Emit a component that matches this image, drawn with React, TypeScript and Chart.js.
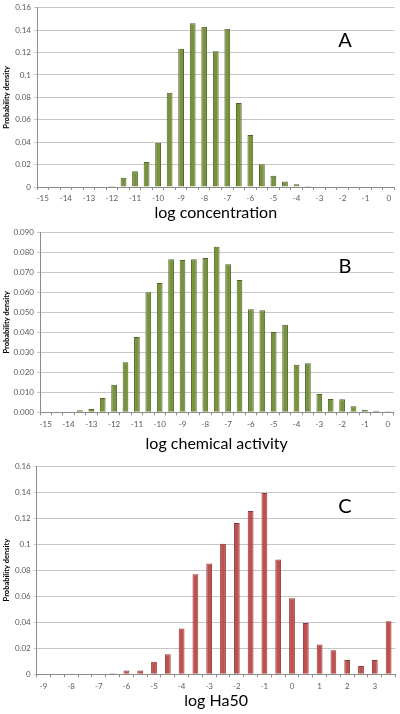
import React, { useEffect, useRef } from "react";
import { Chart, registerables } from "chart.js";

Chart.register(...registerables);

// ---------- Data ----------
const binsA = [-15, -14.5, -14, -13.5, -13, -12.5, -12, -11.5, -11, -10.5, -10, -9.5, -9, -8.5, -8, -7.5, -7, -6.5, -6, -5.5, -5, -4.5, -4, -3.5, -3, -2.5, -2, -1.5, -1, -0.5, 0];
const densityA = [0, 0, 0, 0, 0, 0, 0.001, 0.0082, 0.0141, 0.0224, 0.0394, 0.0841, 0.1235, 0.1462, 0.143, 0.1212, 0.1412, 0.075, 0.0465, 0.0203, 0.01, 0.005, 0.0024, 0.0009, 0, 0, 0, 0, 0, 0, 0];

const binsB = [-15, -14.5, -14, -13.5, -13, -12.5, -12, -11.5, -11, -10.5, -10, -9.5, -9, -8.5, -8, -7.5, -7, -6.5, -6, -5.5, -5, -4.5, -4, -3.5, -3, -2.5, -2, -1.5, -1, -0.5, 0];
const densityB = [0, 0, 0, 0.001, 0.0017, 0.0072, 0.0138, 0.025, 0.0377, 0.06, 0.0647, 0.0765, 0.0762, 0.0765, 0.0772, 0.0828, 0.074, 0.0662, 0.0515, 0.051, 0.0402, 0.0438, 0.0238, 0.0245, 0.0092, 0.0067, 0.0065, 0.003, 0.0013, 0.0008, 0.0005];

const binsC = [-9, -8.5, -8, -7.5, -7, -6.5, -6, -5.5, -5, -4.5, -4, -3.5, -3, -2.5, -2, -1.5, -1, -0.5, 0, 0.5, 1, 1.5, 2, 2.5, 3, 3.5];
const densityC = [0, 0, 0, 0, 0, 0.0008, 0.003, 0.003, 0.0097, 0.0154, 0.0351, 0.0769, 0.0851, 0.1003, 0.1162, 0.1254, 0.1392, 0.0882, 0.0585, 0.0395, 0.0228, 0.0185, 0.011, 0.0064, 0.011, 0.0408];

const yTitle = "Probability density";
const xTitleA = "log concentration";
const xTitleB = "log chemical activity";
const xTitleC = "log Ha50";

const FONT = "Lato, 'Noto Sans', sans-serif";

type PanelProps = {
  top: number;
  height: number;
  bins: number[];
  values: number[];
  yMax: number;
  yStep: number;
  yDecimals: number | null;
  fill: string;
  border: string;
  xTitle: string;
  letter: string;
  letterBaseline: number;
  yAxisWidth: number;
  xAxisHeight: number;
  padTop: number;
  padRight: number;
  barPct: number;
  titlePadBottom: number;
};

function Panel(p: PanelProps) {
  const ref = useRef<HTMLCanvasElement | null>(null);
  useEffect(() => {
    if (!ref.current) return;
    const letterPlugin = {
      id: "letter" + p.letter,
      afterDraw(chart: any) {
        const ctx = chart.ctx;
        ctx.save();
        ctx.font = `20px ${FONT}`;
        ctx.fillStyle = "#000";
        ctx.textAlign = "center";
        ctx.textBaseline = "alphabetic";
        ctx.fillText(p.letter, 345, p.letterBaseline);
        ctx.restore();
      },
    };
    const chart = new Chart(ref.current, {
      type: "bar",
      data: {
        labels: p.bins.map((b) => String(b)),
        datasets: [
          {
            data: p.values,
            backgroundColor: p.fill,
            borderColor: p.border,
            borderWidth: 1,
            barPercentage: p.barPct,
            categoryPercentage: 1,
          },
        ],
      },
      options: {
        animation: false,
        responsive: false,
        maintainAspectRatio: false,
        layout: { padding: { top: p.padTop, right: p.padRight, left: 0, bottom: 0 } },
        plugins: { legend: { display: false }, tooltip: { enabled: false } },
        scales: {
          x: {
            type: "category",
            offset: true,
            grid: {
              display: true,
              offset: true,
              drawOnChartArea: false,
              drawTicks: true,
              tickLength: 3,
              color: "#8c8c8c",
            },
            border: { display: true, color: "#8c8c8c" },
            ticks: {
              autoSkip: false,
              maxRotation: 0,
              minRotation: 0,
              padding: 4,
              color: "#595959",
              font: { family: FONT, size: 8 },
              callback: (_v: any, i: number) => {
                const b = p.bins[i];
                return Number.isInteger(b) ? String(b) : "";
              },
            },
            title: {
              display: true,
              text: p.xTitle,
              color: "#000",
              font: { family: FONT, size: 16 },
              padding: { top: 0, bottom: p.titlePadBottom },
            },
            afterFit: (scale: any) => {
              scale.height = p.xAxisHeight;
            },
          },
          y: {
            min: 0,
            max: p.yMax,
            grid: {
              color: "#c6c6c6",
              drawTicks: true,
              tickLength: 3,
            },
            border: { display: true, color: "#8c8c8c" },
            ticks: {
              stepSize: p.yStep,
              padding: 3,
              color: "#595959",
              font: { family: FONT, size: 8 },
              callback: (v: any) =>
                p.yDecimals === null ? String(+Number(v).toFixed(4)) : Number(v).toFixed(p.yDecimals),
            },
            title: {
              display: true,
              text: yTitle,
              color: "#000",
              font: { family: FONT, size: 7.5, weight: "bold" },
              padding: { top: 2.5, bottom: 0 },
            },
            afterFit: (scale: any) => {
              scale.width = p.yAxisWidth;
            },
          },
        },
      },
      plugins: [letterPlugin],
    } as any);
    return () => chart.destroy();
  }, []);
  return (
    <div style={{ position: "absolute", left: 0, top: p.top, width: 400, height: p.height }}>
      <canvas ref={ref} width={400} height={p.height} style={{ width: 400, height: p.height, display: "block" }} />
    </div>
  );
}

export default function App() {
  return (
    <div style={{ position: "fixed", left: 0, top: 0, width: 400, height: 714, background: "#fff", overflow: "hidden" }}>
      <Panel
        top={0}
        height={224}
        bins={binsA}
        values={densityA}
        yMax={0.16}
        yStep={0.02}
        yDecimals={null}
        fill="#77933C"
        border="#4F6228"
        xTitle={xTitleA}
        letter="A"
        letterBaseline={47}
        yAxisWidth={37}
        xAxisHeight={37}
        padTop={6}
        padRight={5.5}
        barPct={0.5}
        titlePadBottom={2}
      />
      <Panel
        top={224}
        height={232}
        bins={binsB}
        values={densityB}
        yMax={0.09}
        yStep={0.01}
        yDecimals={3}
        fill="#77933C"
        border="#4F6228"
        xTitle={xTitleB}
        letter="B"
        letterBaseline={48.7}
        yAxisWidth={40}
        xAxisHeight={43.7}
        padTop={8.3}
        padRight={6.6}
        barPct={0.5}
        titlePadBottom={3}
      />
      <Panel
        top={456}
        height={258}
        bins={binsC}
        values={densityC}
        yMax={0.16}
        yStep={0.02}
        yDecimals={null}
        fill="#C0504D"
        border="#8C3836"
        xTitle={xTitleC}
        letter="C"
        letterBaseline={57.3}
        yAxisWidth={36.7}
        xAxisHeight={39.7}
        padTop={10}
        padRight={4.5}
        barPct={0.42}
        titlePadBottom={3.3}
      />
    </div>
  );
}
